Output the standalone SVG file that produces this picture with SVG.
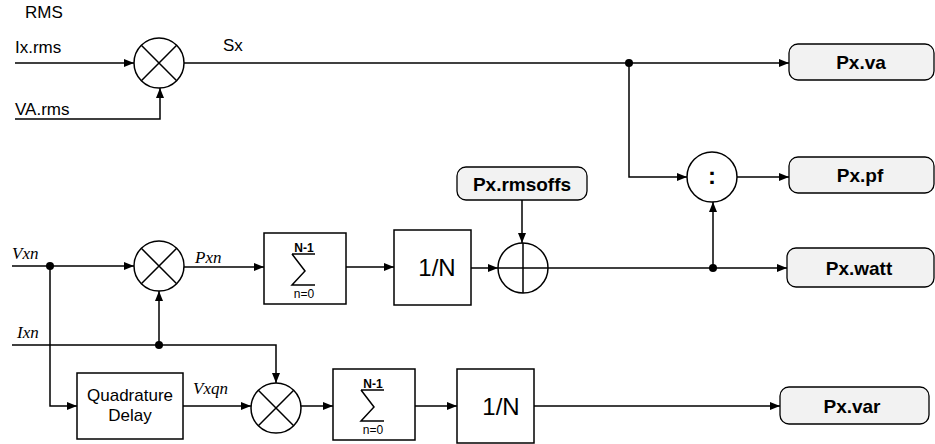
<svg xmlns="http://www.w3.org/2000/svg" width="935" height="444" viewBox="0 0 935 444">
  <style>
    .ln { fill: none; stroke: #000; stroke-width: 1.5; }
    .blk { fill: #fff; stroke: #000; stroke-width: 1.5; }
    .out { fill: #f2f2f2; stroke: #000; stroke-width: 1.3; }
    .lbl { font-family: "Liberation Sans", Arial, sans-serif; font-size: 17px; fill: #000; }
    .sig { font-family: "Liberation Serif", "Times New Roman", serif; font-style: italic; font-size: 17px; fill: #000; }
    .reg { font-family: "Liberation Sans", Arial, sans-serif; font-size: 19px; font-weight: bold; fill: #000; text-anchor: middle; }
    .big { font-family: "Liberation Sans", Arial, sans-serif; font-size: 24px; fill: #000; text-anchor: middle; }
    .mid { font-family: "Liberation Sans", Arial, sans-serif; font-size: 17px; fill: #000; text-anchor: middle; }
    .lim { font-family: "Liberation Sans", Arial, sans-serif; font-size: 12px; fill: #000; text-anchor: middle; }
    .dot { fill: #000; }
  </style>
  <defs>
    <marker id="arr" viewBox="0 0 10 8" refX="10" refY="4" markerWidth="10" markerHeight="8" markerUnits="userSpaceOnUse" orient="auto">
      <path d="M0,0 L10,4 L0,8 Z" fill="#000"/>
    </marker>
    <!-- summation block: box with sigma, limits drawn separately -->
    <g id="sumbox">
      <rect class="blk" x="0" y="0" width="82" height="71"/>
      <path class="ln" d="M28,21 H51 M28,21 L41,38 L28,52 H51" stroke-width="1.8"/>
      <text class="lim" x="40" y="19" font-weight="bold">N-1</text>
      <text class="lim" x="40" y="65">n=0</text>
    </g>
  </defs>

  <!-- free labels -->
  <text class="lbl" x="25" y="18">RMS</text>
  <text class="lbl" x="15" y="53">Ix.rms</text>
  <text class="lbl" x="15" y="115">VA.rms</text>
  <text class="lbl" x="223" y="51">Sx</text>
  <text class="sig" x="12" y="259">Vxn</text>
  <text class="sig" x="195" y="263">Pxn</text>
  <text class="sig" x="17" y="338">Ixn</text>
  <text class="sig" x="193" y="394">Vxqn</text>

  <!-- connectors -->
  <g id="connectors">
    <path class="ln" d="M15,63 H134" marker-end="url(#arr)"/>
    <path class="ln" d="M15,119 H160 V88" marker-end="url(#arr)"/>
    <path class="ln" d="M184,63 H789" marker-end="url(#arr)"/>
    <path class="ln" d="M629,63 V177 H687" marker-end="url(#arr)"/>
    <path class="ln" d="M737,177 H789" marker-end="url(#arr)"/>
    <path class="ln" d="M713,268 V202" marker-end="url(#arr)"/>
    <path class="ln" d="M12,266 H134" marker-end="url(#arr)"/>
    <path class="ln" d="M184,267 H264" marker-end="url(#arr)"/>
    <path class="ln" d="M346,267 H394" marker-end="url(#arr)"/>
    <path class="ln" d="M471,268 H498" marker-end="url(#arr)"/>
    <path class="ln" d="M522,200 V243" marker-end="url(#arr)"/>
    <path class="ln" d="M548,268 H787" marker-end="url(#arr)"/>
    <path class="ln" d="M12,345 H276 V383" marker-end="url(#arr)"/>
    <path class="ln" d="M159,345 V291" marker-end="url(#arr)"/>
    <path class="ln" d="M50,266 V406 H77" marker-end="url(#arr)"/>
    <path class="ln" d="M183,406 H251" marker-end="url(#arr)"/>
    <path class="ln" d="M301,406 H333" marker-end="url(#arr)"/>
    <path class="ln" d="M415,406 H457" marker-end="url(#arr)"/>
    <path class="ln" d="M534,406 H780" marker-end="url(#arr)"/>
    <circle class="dot" cx="629" cy="63" r="4"/>
    <circle class="dot" cx="50" cy="266" r="4"/>
    <circle class="dot" cx="159" cy="345" r="4"/>
    <circle class="dot" cx="713" cy="268" r="4"/>
  </g>

  <!-- multiplier: Ix.rms x VA.rms -->
  <g id="mul-s">
    <circle class="blk" cx="159" cy="63" r="25"/>
    <path class="ln" d="M141.3,45.3 L176.7,80.7 M176.7,45.3 L141.3,80.7"/>
  </g>

  <!-- divider -->
  <g id="div-pf">
    <circle class="blk" cx="712" cy="177" r="25"/>
    <text x="712" y="184" font-family="Liberation Sans, Arial, sans-serif" font-size="24" font-weight="bold" text-anchor="middle">:</text>
  </g>

  <!-- multiplier: Vxn x Ixn -->
  <g id="mul-p">
    <circle class="blk" cx="159" cy="266" r="25"/>
    <path class="ln" d="M141.3,248.3 L176.7,283.7 M176.7,248.3 L141.3,283.7"/>
  </g>

  <g id="sum-p">
    <use href="#sumbox" x="264" y="233"/>
  </g>

  <g id="avg-p">
    <rect class="blk" x="394" y="230" width="77" height="75"/>
    <text class="big" x="437" y="276">1/N</text>
  </g>

  <!-- adder: offset correction -->
  <g id="add-off">
    <circle class="blk" cx="523" cy="268" r="25"/>
    <path class="ln" d="M498,268 H548 M523,243 V293"/>
  </g>

  <g id="px-rmsoffs">
    <rect class="out" x="457" y="167" width="130" height="33" rx="9"/>
    <text class="reg" x="522" y="191">Px.rmsoffs</text>
  </g>

  <g id="quad-delay">
    <rect class="blk" x="77" y="373" width="106" height="66"/>
    <text class="mid" x="130" y="401">Quadrature</text>
    <text class="mid" x="130" y="421">Delay</text>
  </g>

  <!-- multiplier: Vxqn x Ixn -->
  <g id="mul-q">
    <circle class="blk" cx="276" cy="408" r="25"/>
    <path class="ln" d="M258.3,390.3 L293.7,425.7 M293.7,390.3 L258.3,425.7"/>
  </g>

  <g id="sum-q">
    <use href="#sumbox" x="333" y="369"/>
  </g>

  <g id="avg-q">
    <rect class="blk" x="457" y="369" width="77" height="74"/>
    <text class="big" x="501" y="415">1/N</text>
  </g>

  <!-- output registers -->
  <g id="px-va">
    <rect class="out" x="789" y="44" width="145" height="36" rx="9"/>
    <text class="reg" x="861" y="69">Px.va</text>
  </g>
  <g id="px-pf">
    <rect class="out" x="789" y="157" width="145" height="36" rx="9"/>
    <text class="reg" x="860" y="182">Px.pf</text>
  </g>
  <g id="px-watt">
    <rect class="out" x="787" y="248" width="147" height="39" rx="9"/>
    <text class="reg" x="859" y="275">Px.watt</text>
  </g>
  <g id="px-var">
    <rect class="out" x="780" y="387" width="149" height="37" rx="9"/>
    <text class="reg" x="852" y="413">Px.var</text>
  </g>
</svg>
